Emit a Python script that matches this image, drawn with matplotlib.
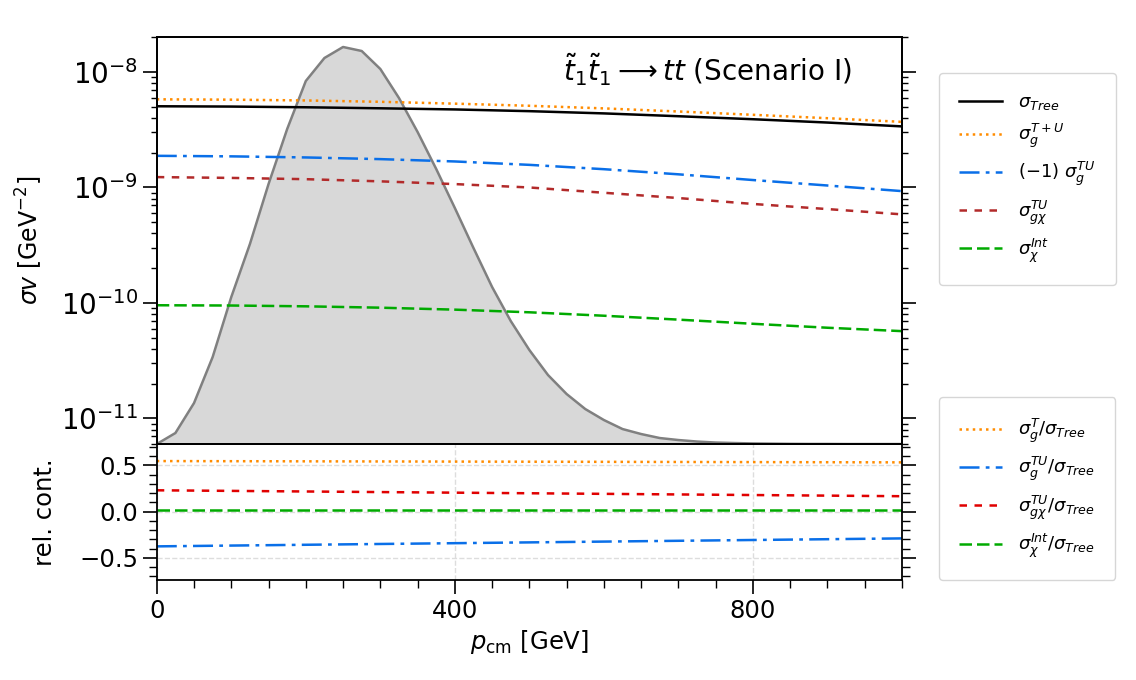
import numpy as np
import matplotlib
matplotlib.use("Agg")
import matplotlib.pyplot as plt
from matplotlib.ticker import MultipleLocator, LogLocator, NullFormatter

# momentum grid for the cross sections [GeV]
p_cm = [0, 100, 200, 300, 400, 500, 600, 700, 800, 900, 1000]

# sigma v [GeV^-2]
sig_tree = [5.05e-9, 5.02e-9, 4.95e-9, 4.85e-9, 4.74e-9, 4.58e-9, 4.38e-9, 4.14e-9, 3.90e-9, 3.65e-9, 3.38e-9]
sig_g_TpU = [5.80e-9, 5.76e-9, 5.67e-9, 5.52e-9, 5.32e-9, 5.10e-9, 4.84e-9, 4.55e-9, 4.26e-9, 3.98e-9, 3.70e-9]
sig_g_TU_neg = [1.88e-9, 1.86e-9, 1.82e-9, 1.76e-9, 1.68e-9, 1.57e-9, 1.44e-9, 1.30e-9, 1.16e-9, 1.04e-9, 0.93e-9]
sig_gchi_TU = [1.23e-9, 1.21e-9, 1.18e-9, 1.13e-9, 1.07e-9, 1.00e-9, 0.90e-9, 0.81e-9, 0.72e-9, 0.65e-9, 0.585e-9]
sig_chi_int = [9.55e-11, 9.50e-11, 9.35e-11, 9.10e-11, 8.75e-11, 8.30e-11, 7.75e-11, 7.17e-11, 6.60e-11, 6.10e-11, 5.70e-11]

# relative contributions
rel_x = [0, 1000]
rel_g_T = [0.546, 0.532]
rel_g_TU = [-0.376, -0.290]
rel_gchi_TU = [0.230, 0.166]
rel_chi_int = [0.013, 0.013]

# momentum distribution (arbitrary units)
dist_x = list(range(0, 1001, 25))
dist_y = [0, 11, 41, 87, 147, 200, 260, 315, 363, 386, 397, 393, 375, 346, 312, 275,
          236, 196, 157, 123, 94, 69, 50, 35, 24, 15, 10, 6, 4, 2.5, 1.5, 1, 0.6,
          0.4, 0.2, 0.1, 0.1, 0, 0, 0, 0]

c_orange = "darkorange"
c_blue = "#0a6fe8"
c_brown = "#b22a2a"
c_green = "#00aa00"
c_red = "#e00000"

fig = plt.figure(figsize=(11.36, 6.8), dpi=100)
ax = fig.add_axes([0.138, 0.347, 0.656, 0.5986])
ax2 = fig.add_axes([0.138, 0.147, 0.656, 0.200])

# distribution on a hidden twin axis
tw = ax.twinx()
tw.fill_between(dist_x, dist_y, 0, color="gray", alpha=0.3, lw=0)
tw.plot(dist_x, dist_y, color="gray", lw=1.8)
tw.set_ylim(0, 407)
tw.set_yticks([])
ax.set_zorder(tw.get_zorder() + 1)
ax.patch.set_visible(False)

lw = 1.8
ax.plot(p_cm, sig_tree, color="black", lw=lw, label=r"$\sigma_{Tree}$")
ax.plot(p_cm, sig_g_TpU, color=c_orange, lw=lw, ls=":", label=r"$\sigma_g^{T+U}$")
ax.plot(p_cm, sig_g_TU_neg, color=c_blue, lw=lw, ls="-.", dashes=(8, 2.5, 1.5, 2.5), label=r"$(-1)\ \sigma_g^{TU}$")
ax.plot(p_cm, sig_gchi_TU, color=c_brown, lw=lw, ls="--", dashes=(3, 3), label=r"$\sigma_{g\chi}^{TU}$")
ax.plot(p_cm, sig_chi_int, color=c_green, lw=lw, ls="--", dashes=(5, 2), label=r"$\sigma_{\chi}^{Int}$")

ax.set_yscale("log")
ax.set_ylim(6.0e-12, 2.01e-8)
ax.set_xlim(0, 1000)
ax.set_xticks([])
ax.set_ylabel(r"$\sigma v$ [GeV$^{-2}$]", fontsize=17)
ax.yaxis.set_label_coords(-0.150, 0.5)
ax.yaxis.set_major_locator(LogLocator(base=10, numticks=10))
ax.yaxis.set_minor_locator(LogLocator(base=10, subs=np.arange(2, 10), numticks=10))
ax.yaxis.set_minor_formatter(NullFormatter())
ax.tick_params(axis="y", which="both", direction="out", left=True, right=True, labelsize=20)
ax.tick_params(axis="y", which="major", length=10, width=1.2)
ax.tick_params(axis="y", which="minor", length=4, width=1)
ax.text(0.933, 0.919, r"$\tilde{t}_1\tilde{t}_1 \longrightarrow tt$ (Scenario I)",
        transform=ax.transAxes, ha="right", va="center", fontsize=20)

ax2.plot(rel_x, rel_g_T, color=c_orange, lw=lw, ls=":", label=r"$\sigma_g^{T}/\sigma_{Tree}$")
ax2.plot(rel_x, rel_g_TU, color=c_blue, lw=lw, ls="-.", dashes=(8, 2.5, 1.5, 2.5), label=r"$\sigma_g^{TU}/\sigma_{Tree}$")
ax2.plot(rel_x, rel_gchi_TU, color=c_red, lw=lw, ls="--", dashes=(3, 3), label=r"$\sigma_{g\chi}^{TU}/\sigma_{Tree}$")
ax2.plot(rel_x, rel_chi_int, color=c_green, lw=lw, ls="--", dashes=(5, 2), label=r"$\sigma_\chi^{Int}/\sigma_{Tree}$")
ax2.set_ylim(-0.74, 0.73)
ax2.set_xlim(0, 1000)
ax2.set_xticks([0, 400, 800])
ax2.xaxis.set_minor_locator(MultipleLocator(50))
ax2.set_yticks([-0.5, 0.0, 0.5])
ax2.yaxis.set_minor_locator(MultipleLocator(0.1))
ax2.grid(True, which="major", ls="--", color="#dddddd", lw=1)
ax2.set_axisbelow(True)
ax2.tick_params(which="both", direction="out", right=True, labelsize=17.5)
ax2.tick_params(which="major", length=10, width=1.2)
ax2.tick_params(axis="y", which="minor", length=6, width=1)
ax2.tick_params(axis="x", which="minor", length=6, width=1)
ax2.set_ylabel("rel. cont.", fontsize=17.5)
ax2.yaxis.set_label_coords(-0.134, 0.5)
ax2.set_xlabel(r"$p_{\rm cm}$ [GeV]", fontsize=17.5)

for a in (ax, ax2, tw):
    for s in a.spines.values():
        s.set_linewidth(1.3)

leg_kw = dict(loc="upper left", fontsize=13, labelspacing=0.55, handlelength=2.4,
              borderpad=1.1, handletextpad=0.9, borderaxespad=0)
fig.legend(handles=ax.get_lines(), bbox_to_anchor=(0.8266, 0.8926), **leg_kw)
fig.legend(handles=ax2.get_lines(), bbox_to_anchor=(0.8266, 0.4162), **leg_kw)

fig.savefig("out.png", dpi=100)
